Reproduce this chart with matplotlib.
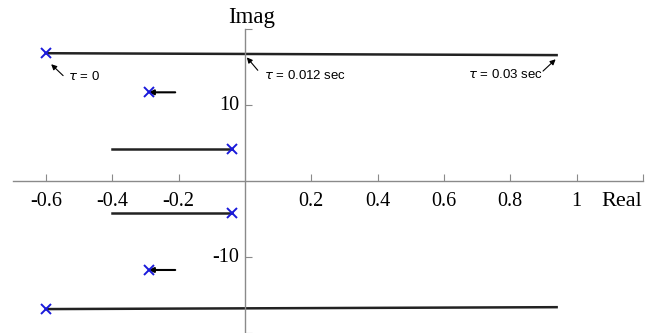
import numpy as np
import matplotlib.pyplot as plt

# pole locations at tau = 0 (upper half, mirrored below)
start_re = np.array([-0.60, -0.29, -0.04])
start_im = np.array([16.85, 11.7, 4.2])
# pole locations at tau = 0.03 sec
end_re = np.array([0.94, -0.21, -0.40])
end_im = np.array([16.6, 11.7, 4.2])

xticks = [-0.6, -0.4, -0.2, 0.2, 0.4, 0.6, 0.8, 1, 1.2]
xticklabels = ["-0.6", "-0.4", "-0.2", "0.2", "0.4", "0.6", "0.8", "1", ""]
yticks = [-20, -10, 10, 20]
yticklabels = ["", "-10", "10", ""]

fig = plt.figure(figsize=(6.51, 3.33), dpi=100)
ax = fig.add_axes([0.0195, 0.0, 0.968, 0.912])
ax.set_xlim(-0.7, 1.2)
ax.set_ylim(-20, 20)

for s in ["top", "right"]:
    ax.spines[s].set_visible(False)
for s in ["left", "bottom"]:
    ax.spines[s].set_position("zero")
    ax.spines[s].set_color("#8a8a8a")
    ax.spines[s].set_linewidth(1.0)

serif = "Liberation Serif"
sans = "Liberation Sans"

ax.set_xticks(xticks)
ax.set_xticklabels(xticklabels, fontfamily=serif, fontsize=14.5)
ax.set_yticks(yticks)
ax.set_yticklabels(yticklabels, fontfamily=serif, fontsize=14.5)
ax.tick_params(axis="x", direction="in", length=5, color="#8a8a8a", pad=8)
ax.tick_params(axis="y", direction="in", length=5, color="#8a8a8a", pad=4)
for lab in ax.get_yticklabels():
    lab.set_verticalalignment("center")

# loci (upper and mirrored lower half)
for sign in (1, -1):
    for i in range(len(start_re)):
        if i == 1:
            ax.annotate("", xy=(start_re[i], sign * start_im[i]),
                        xytext=(end_re[i], sign * end_im[i]),
                        arrowprops=dict(arrowstyle="-|>", color="black",
                                        lw=1.5, mutation_scale=7,
                                        shrinkA=0, shrinkB=0))
        else:
            ax.plot([start_re[i], end_re[i]],
                    [sign * start_im[i], sign * end_im[i]],
                    color="#222222", lw=1.8)
    ax.plot(start_re, sign * start_im, "x", color="#1a1adb",
            markersize=7, mew=1.4, zorder=5)

ax.text(1.135, -2.7, "Real", fontfamily=serif, fontsize=16,
        ha="center", va="center")
ax.text(0.02, 20.8, "Imag", fontfamily=serif, fontsize=16.5,
        ha="center", va="baseline", clip_on=False)

# tau annotations: arrow (tail -> head) and label
arrow = dict(arrowstyle="-|>", color="black", lw=0.8, mutation_scale=8,
             shrinkA=0, shrinkB=0)
ax.annotate("", xy=(-0.584, 15.4), xytext=(-0.548, 13.9), arrowprops=arrow)
ax.text(-0.533, 13.8, r"$\tau$ = 0", fontfamily=sans, fontsize=9.5,
        ha="left", va="center")
ax.annotate("", xy=(0.006, 16.3), xytext=(0.039, 14.6), arrowprops=arrow)
ax.text(0.057, 13.9, r"$\tau$ = 0.012 sec", fontfamily=sans, fontsize=9.5,
        ha="left", va="center")
ax.annotate("", xy=(0.937, 16.05), xytext=(0.899, 14.5), arrowprops=arrow)
ax.text(0.898, 14.0, r"$\tau$ = 0.03 sec", fontfamily=sans, fontsize=9.5,
        ha="right", va="center")

fig.savefig("out.png", dpi=100)
